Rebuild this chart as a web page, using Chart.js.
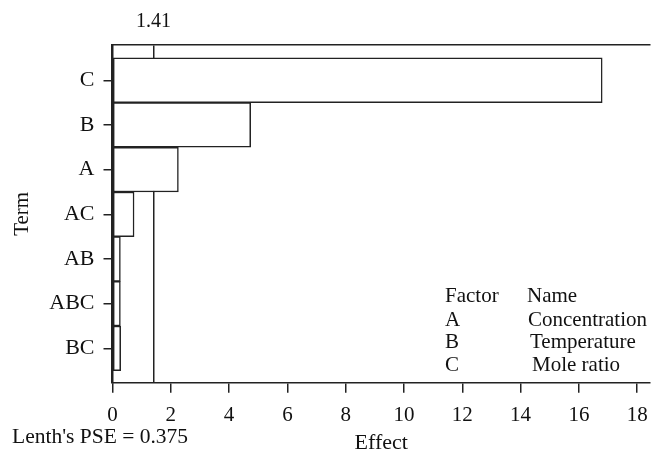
<!DOCTYPE html>
<html>
<head>
<meta charset="utf-8">
<script src="https://cdn.jsdelivr.net/npm/chart.js@4/dist/chart.umd.min.js"></script>
<style>
  html, body { margin: 0; padding: 0; background: #fff; }
  #wrap { width: 651px; height: 456px; }
</style>
</head>
<body>
<div id="wrap"><canvas id="chart" width="651" height="456"></canvas></div>
<script>
// Pareto of standardized effects
const terms = ['C', 'B', 'A', 'AC', 'AB', 'ABC', 'BC'];
const effects = [16.8, 4.74, 2.26, 0.74, 0.27, 0.27, 0.28];
const xTicks = [0, 2, 4, 6, 8, 10, 12, 14, 16, 18];
const refLine = 1.41;
const pseText = "Lenth's PSE = 0.375";
const factorCodes = ['A', 'B', 'C'];
const factorNames = ['Concentration', 'Temperature', 'Mole ratio'];

const FONT = 'Liberation Serif';
const INK = '#222';
const TXT = '#111';

// text block at bottom right + PSE note
const notesPlugin = {
    id: 'notes',
    afterDraw(chart) {
        const ctx = chart.ctx;
        ctx.save();
        ctx.fillStyle = TXT;
        ctx.font = '21px "' + FONT + '"';
        ctx.textBaseline = 'middle';
        ctx.textAlign = 'left';
        ctx.fillText('Factor', 445, 296);
        ctx.fillText('Name', 527, 296);
        factorCodes.forEach((c, i) => {
            const y = 320 + i * 22.7;
            ctx.fillText(c, 445, y);
            ctx.fillText(factorNames[i], 528 + i * 2, y);
        });
        ctx.font = '21.5px "' + FONT + '"';
        ctx.fillText(pseText, 12, 437);
        ctx.restore();
    }
};

// keep the plot area fixed, no automatic edge padding for labels
function fixHoriz(h) {
    return s => { s.height = h; s.paddingLeft = 0; s.paddingRight = 0; };
}

const ctx = document.getElementById('chart').getContext('2d');
new Chart(ctx, {
    type: 'bar',
    data: {
        datasets: [{
            data: effects.map((v, i) => ({ x: v, y: i })),
            backgroundColor: '#fff',
            borderColor: INK,
            borderWidth: 1.5,
            borderSkipped: false,
            categoryPercentage: 1,
            barPercentage: 1
        }]
    },
    options: {
        indexAxis: 'y',
        responsive: false,
        animation: false,
        layout: { padding: { left: 0, right: 1, top: 0, bottom: 0 } },
        plugins: { legend: { display: false }, tooltip: { enabled: false } },
        scales: {
            x: {
                type: 'linear',
                position: 'bottom',
                min: 0,
                max: 18.44,
                afterBuildTicks: s => { s.ticks = xTicks.map(v => ({ value: v })); },
                afterFit: fixHoriz(73.3),
                grid: { drawOnChartArea: false, drawTicks: true, tickLength: 10, color: INK, lineWidth: 1.5 },
                border: { display: true, color: INK, width: 1.5 },
                ticks: { color: TXT, padding: 10, font: { family: FONT, size: 21 } },
                title: { display: true, text: 'Effect', color: TXT, padding: { top: 0, bottom: 0 }, font: { family: FONT, size: 22 } }
            },
            xTop: {
                type: 'linear',
                axis: 'x',
                position: 'top',
                min: 0,
                max: 18.44,
                afterBuildTicks: s => { s.ticks = [{ value: refLine }]; },
                afterFit: fixHoriz(45),
                grid: { drawOnChartArea: true, drawTicks: false, color: INK, lineWidth: 1.5 },
                border: { display: true, color: INK, width: 1.5 },
                ticks: { color: TXT, padding: 11, font: { family: FONT, size: 20 }, callback: v => v.toFixed(2) }
            },
            y: {
                type: 'linear',
                reverse: true,
                offset: false,
                min: -0.79,
                max: 6.77,
                afterBuildTicks: s => { s.ticks = terms.map((t, i) => ({ value: i })); },
                afterFit: s => { s.width = 112.5; s.paddingTop = 0; s.paddingBottom = 0; },
                grid: { offset: false, drawOnChartArea: false, drawTicks: true, tickLength: 9, color: INK, lineWidth: 1.5 },
                border: { display: true, color: INK, width: 2.5 },
                ticks: { color: TXT, padding: 9, font: { family: FONT, size: 22 }, callback: v => terms[v] },
                title: { display: true, text: 'Term', color: TXT, padding: { top: 10, bottom: 0 }, font: { family: FONT, size: 21 } }
            }
        }
    },
    plugins: [notesPlugin]
});
</script>
</body>
</html>
